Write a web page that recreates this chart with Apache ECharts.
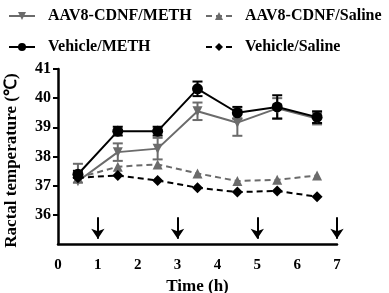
<!DOCTYPE html>
<html>
<head>
<meta charset="utf-8">
<script src="https://cdn.jsdelivr.net/npm/echarts@6/dist/echarts.min.js"></script>
<style>
html, body { margin: 0; padding: 0; background: #fff; }
#main { width: 389px; height: 293px; }
</style>
</head>
<body>
<div id="main"></div>
<script>
// 时间点 (h)
var times = [0.5, 1.5, 2.5, 3.5, 4.5, 5.5, 6.5];
var seriesNames = ['AAV8-CDNF/METH', 'AAV8-CDNF/Saline', 'Vehicle/METH', 'Vehicle/Saline'];

var aavMeth = [37.15, 38.15, 38.27, 39.55, 39.16, 39.65, 39.3];
var aavMethErrUp = [0.6, 0.3, 0.37, 0.3, 0.45, 0.35, 0.2];
var aavMethErrDown = [0.05, 0.3, 0.37, 0.3, 0.45, 0.35, 0.2];
var aavSaline = [37.27, 37.65, 37.73, 37.42, 37.16, 37.2, 37.35];
var vehMeth = [37.39, 38.87, 38.87, 40.32, 39.5, 39.7, 39.35];
var vehMethErr = [0.12, 0.15, 0.15, 0.25, 0.2, 0.4, 0.2];
var vehSaline = [37.27, 37.35, 37.18, 36.93, 36.78, 36.82, 36.62];

// 注射箭头
var arrowTimes = [1, 3, 5, 7];
var arrowTop = 35.92;
var arrowBottom = 35.18;

var xTicks = [0, 1, 2, 3, 4, 5, 6, 7];
var yTicks = [36, 37, 38, 39, 40, 41];

var gray = '#6b6b6b';
var font = 'Liberation Serif';

function pairs(vals) {
    var out = [];
    for (var i = 0; i < times.length; i++) out.push([times[i], vals[i]]);
    return out;
}
function errData(vals, down, up) {
    var out = [];
    for (var i = 0; i < times.length; i++) out.push([times[i], vals[i] - down[i], vals[i] + up[i]]);
    return out;
}
function errSeries(vals, down, up, color) {
    return {
        type: 'custom',
        data: errData(vals, down, up),
        silent: true,
        z: 1,
        renderItem: function (params, api) {
            var lo = api.coord([api.value(0), api.value(1)]);
            var hi = api.coord([api.value(0), api.value(2)]);
            var w = 5;
            var st = { stroke: color, lineWidth: 2, fill: null };
            return {
                type: 'group',
                children: [
                    { type: 'line', shape: { x1: lo[0], y1: lo[1], x2: hi[0], y2: hi[1] }, style: st },
                    { type: 'line', shape: { x1: lo[0] - w, y1: lo[1], x2: lo[0] + w, y2: lo[1] }, style: st },
                    { type: 'line', shape: { x1: hi[0] - w, y1: hi[1], x2: hi[0] + w, y2: hi[1] }, style: st }
                ]
            };
        }
    };
}

var arrowLines = [];
for (var k = 0; k < arrowTimes.length; k++) {
    arrowLines.push([{ coord: [arrowTimes[k], arrowTop] }, { coord: [arrowTimes[k], arrowBottom] }]);
}

var legendText = { fontFamily: font, fontWeight: 'bold', fontSize: 16, color: '#000', padding: [0, 0, 0, 8] };

var myChart = echarts.init(document.getElementById('main'));

myChart.setOption({
    animation: false,
    textStyle: { fontFamily: font },
    legend: [{
        left: 3,
        top: 3,
        orient: 'vertical',
        itemGap: 15,
        itemWidth: 26,
        itemHeight: 10,
        data: [seriesNames[0], seriesNames[2]],
        textStyle: legendText
    }, {
        left: 200,
        top: 3,
        orient: 'vertical',
        itemGap: 15,
        itemWidth: 26,
        itemHeight: 10,
        data: [seriesNames[1], seriesNames[3]],
        textStyle: legendText
    }],
    grid: { left: 58, right: 52, top: 69, bottom: 49, outerBoundsMode: 'none' },
    xAxis: {
        type: 'value',
        min: 0,
        max: 7,
        interval: 1,
        name: 'Time (h)',
        nameLocation: 'middle',
        nameGap: 29,
        nameTextStyle: { fontFamily: font, fontWeight: 'bold', fontSize: 17, color: '#000' },
        axisLine: { show: true, lineStyle: { color: '#000', width: 2.5 } },
        axisTick: { show: false },
        splitLine: { show: false },
        axisLabel: { customValues: xTicks, fontFamily: font, fontWeight: 'bold', fontSize: 15, color: '#000', margin: 14 }
    },
    yAxis: {
        type: 'value',
        min: 35,
        max: 41,
        interval: 1,
        name: 'Ractal temperature (℃)',
        nameLocation: 'middle',
        nameGap: 38,
        nameRotate: 90,
        nameTextStyle: { fontFamily: font, fontWeight: 'bold', fontSize: 17, color: '#000', padding: [0, 8, 0, 0] },
        axisLine: { show: true, lineStyle: { color: '#000', width: 2.5 } },
        axisTick: { show: true, customValues: yTicks, length: 5, lineStyle: { color: '#000', width: 2 } },
        splitLine: { show: false },
        axisLabel: { customValues: yTicks, fontFamily: font, fontWeight: 'bold', fontSize: 16, color: '#000', margin: 7 }
    },
    series: [
        errSeries(aavMeth, aavMethErrDown, aavMethErrUp, gray),
        errSeries(vehMeth, vehMethErr, vehMethErr, '#000'),
        {
            name: seriesNames[0],
            type: 'line',
            data: pairs(aavMeth),
            symbol: 'triangle',
            symbolRotate: 180,
            symbolSize: 10,
            z: 3,
            lineStyle: { color: gray, width: 2 },
            itemStyle: { color: gray }
        },
        {
            name: seriesNames[1],
            type: 'line',
            data: pairs(aavSaline),
            symbol: 'triangle',
            symbolSize: 10,
            z: 3,
            lineStyle: { color: gray, width: 2, type: [6, 4] },
            itemStyle: { color: gray }
        },
        {
            name: seriesNames[2],
            type: 'line',
            data: pairs(vehMeth),
            symbol: 'circle',
            symbolSize: 11,
            z: 4,
            lineStyle: { color: '#000', width: 2 },
            itemStyle: { color: '#000' }
        },
        {
            name: seriesNames[3],
            type: 'line',
            data: pairs(vehSaline),
            symbol: 'diamond',
            symbolSize: 11,
            z: 4,
            lineStyle: { color: '#000', width: 2, type: [6, 4] },
            itemStyle: { color: '#000' }
        },
        {
            type: 'line',
            data: [],
            silent: true,
            markLine: {
                silent: true,
                symbol: ['none', 'arrow'],
                symbolSize: [10, 10],
                label: { show: false },
                lineStyle: { color: '#000', width: 2, type: 'solid' },
                data: arrowLines
            }
        }
    ]
});
</script>
</body>
</html>
